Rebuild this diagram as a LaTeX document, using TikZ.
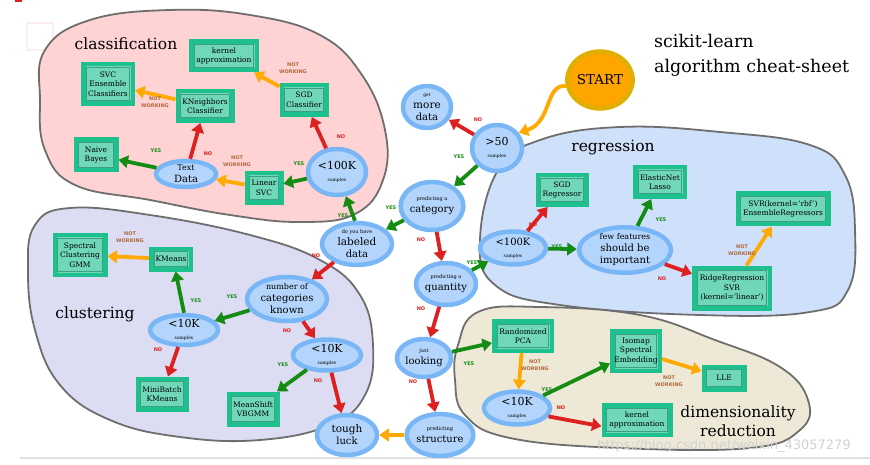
\documentclass[tikz,border=0pt]{standalone}
\usepackage{fontspec}
\setmainfont{DejaVu Serif}
\newfontfamily\labfont{DejaVu Sans}
\usetikzlibrary{arrows.meta,shapes.geometric,shadows}
\newcommand\fsz[2]{\fontsize{#1}{#2}\selectfont}
\definecolor{pinkfill}{HTML}{FFD3D3}
\definecolor{lavfill}{HTML}{DCDCF3}
\definecolor{regfill}{HTML}{CFE0FA}
\definecolor{dimfill}{HTML}{EEE9D6}
\definecolor{blobline}{HTML}{6E6E6E}
\definecolor{ellfill}{HTML}{B4D5FB}
\definecolor{ellline}{HTML}{78B6F6}
\definecolor{boxfill}{HTML}{70D8B8}
\definecolor{boxline}{HTML}{1EC08E}
\definecolor{boxinner}{HTML}{3E9F84}
\definecolor{agreen}{HTML}{148C14}
\definecolor{ared}{HTML}{DD2020}
\definecolor{aorange}{HTML}{FFAA00}
\definecolor{nwbrown}{HTML}{B0683A}
\definecolor{startfill}{HTML}{FFA500}
\definecolor{startline}{HTML}{E0B000}
\tikzset{
  blob/.style={draw=blobline, line width=1.8pt},
  ell/.style={ellipse, draw=ellline, line width=4.5pt, fill=ellfill, inner sep=0pt, align=center,
    drop shadow={shadow xshift=1pt, shadow yshift=-1.5pt, opacity=0.25}},
  box/.style={rectangle, draw=boxline, line width=4.5pt, fill=boxfill, inner sep=1pt, align=center,
    font=\fsz{7.5}{9.5},
    drop shadow={shadow xshift=1pt, shadow yshift=-1.5pt, opacity=0.25},
    path picture={\draw[boxinner, line width=0.8pt]
      ([shift={(3pt,-3pt)}]path picture bounding box.north west) rectangle
      ([shift={(-3pt,3pt)}]path picture bounding box.south east);}},
  arr/.style={line width=3.8pt, -{Triangle[width=12.5pt,length=9.5pt]}},
  gar/.style={arr, draw=agreen},
  rar/.style={arr, draw=ared},
  oar/.style={arr, draw=aorange},
  yeslab/.style={font=\labfont\bfseries\fsz{5}{5.5}, text=agreen, inner sep=0pt},
  nolab/.style={font=\labfont\bfseries\fsz{5}{5.5}, text=ared, inner sep=0pt},
  nwlab/.style={font=\labfont\bfseries\fsz{5}{6.5}, text=nwbrown, inner sep=0pt, align=center},
  area/.style={font=\fsz{15.5}{19}, align=center, inner sep=0pt}
}
\begin{document}
\begin{tikzpicture}[x=1pt, y=-1pt]
\useasboundingbox (0,0) rectangle (870,465);
% page artefacts
\fill[ared] (15,0) rectangle (22,2);
\draw[pinkfill!40, line width=1.5pt] (27,23) rectangle (53,50);
\draw[black!12, line width=1.2pt] (20,458) -- (870,458);

% blobs
\draw[blob, fill=pinkfill] plot[smooth cycle, tension=0.7] coordinates {
 (45,50) (90,20) (170,10) (250,15) (320,35) (362,75) (385,130) (383,180) (355,214) (300,222) (230,215) (150,200) (75,185) (45,150) (40,100)};
\draw[blob, fill=lavfill] plot[smooth cycle, tension=0.7] coordinates {
 (35,225) (70,208) (150,215) (250,235) (320,260) (360,295) (373,345) (365,395) (330,425) (260,440) (180,437) (110,420) (60,385) (35,330) (28,270)};
\draw[blob, fill=regfill] plot[smooth cycle, tension=0.7] coordinates {
 (480,240) (498,170) (540,140) (620,127) (720,132) (810,145) (845,175) (855,230) (848,290) (810,312) (700,315) (560,305) (495,285)};
\draw[blob, fill=dimfill] plot[smooth cycle, tension=0.7] coordinates {
 (458,345) (478,312) (540,307) (640,315) (715,340) (780,367) (808,400) (800,430) (750,448) (620,448) (510,438) (465,415) (455,380)};

% area labels and title
\node[area] (tcls) at (126,44) {classification};
\node[area] (tclu) at (95,314) {clustering};
\node[area] (treg) at (613,148) {regression};
\node[area] (tdim) at (738,421) {dimensionality\\reduction};
\node[font=\fsz{17.5}{25}, align=left, anchor=west, inner sep=0pt] (title) at (654,55) {scikit-learn\\algorithm cheat-sheet};

% ellipse nodes
\node[ellipse, draw=startline, line width=4.5pt, fill=startfill, minimum width=61, minimum height=57, inner sep=0pt,
  font=\fsz{13.5}{15}, drop shadow={shadow xshift=1pt, shadow yshift=-1.5pt, opacity=0.25}] (start) at (600,80) {START};
\node[ell, minimum width=48, minimum height=42] (more) at (427,107) {\fsz{4.5}{6}get\\\fsz{10.5}{12.5}more\\data};
\node[ell, minimum width=50, minimum height=46] (gt50) at (497,148) {\fsz{11}{12}{>}50\\\fsz{4.5}{6}samples};
\node[ell, minimum width=56, minimum height=48] (cat) at (432,206) {\fsz{5}{7}predicting a\\\fsz{10}{12}category};
\node[ell, minimum width=70, minimum height=42] (lab) at (357,244) {\fsz{5}{6}do you have\\\fsz{10.5}{12.5}labeled\\data};
\node[ell, minimum width=58, minimum height=46] (c100) at (337,172) {\fsz{11}{12}{<}100K\\\fsz{4.5}{6}samples};
\node[ell, minimum width=60, minimum height=26] (text) at (186,174) {\fsz{8}{9.5}Text\\Data};
\node[ell, minimum width=80, minimum height=44] (ncat) at (287,299) {\fsz{8}{9.5}number of\\categories\\known};
\node[ell, minimum width=68, minimum height=30] (k10a) at (184,330) {\fsz{11}{11}{<}10K\\\fsz{4.5}{6}samples};
\node[ell, minimum width=68, minimum height=31] (k10b) at (327,355) {\fsz{11}{11}{<}10K\\\fsz{4.5}{6}samples};
\node[ell, minimum width=60, minimum height=40] (tough) at (347,435) {\fsz{10.5}{12.5}tough\\luck};
\node[ell, minimum width=60, minimum height=42] (quant) at (446,284) {\fsz{5}{7}predicting a\\\fsz{10}{12}quantity};
\node[ell, minimum width=54, minimum height=38] (look) at (424,358) {\fsz{5}{7}just\\\fsz{10}{12}looking};
\node[ell, minimum width=60, minimum height=42] (struct) at (440,435) {\fsz{5}{7}predicting\\\fsz{10}{12}structure};
\node[ell, minimum width=66, minimum height=33] (r100) at (513,248) {\fsz{10}{11}{<}100K\\\fsz{4.5}{6}samples};
\node[ell, minimum width=92, minimum height=40] (few) at (625,250) {\fsz{8}{9.5}few features\\should be\\important};
\node[ell, minimum width=66, minimum height=33] (k10c) at (517,408) {\fsz{11}{11}{<}10K\\\fsz{4.5}{6}samples};

% boxes
\node[box, minimum width=65.5, minimum height=28.5] (ka1) at (224,56) {kernel\\approximation};
\node[box, minimum width=49.5, minimum height=39.5] (svce) at (108,84) {SVC\\Ensemble\\Classifiers};
\node[box, minimum width=54.5, minimum height=29.5] (knn) at (205,106) {KNeighbors\\Classifier};
\node[box, minimum width=44.5, minimum height=29.5] (sgdc) at (304,100) {SGD\\Classifier};
\node[box, minimum width=40.5, minimum height=30.5] (nb) at (96,155) {Naive\\Bayes};
\node[box, minimum width=34.5, minimum height=29.5] (lsvc) at (264,188) {Linear\\SVC};
\node[box, minimum width=50.5, minimum height=39.5] (spec) at (80,255) {Spectral\\Clustering\\GMM};
\node[box, minimum width=39.5, minimum height=20.5] (km) at (171,259) {KMeans};
\node[box, minimum width=48.5, minimum height=30.5] (mbk) at (162,394) {MiniBatch\\KMeans};
\node[box, minimum width=48.5, minimum height=30.5] (ms) at (253,409) {MeanShift\\VBGMM};
\node[box, minimum width=48.5, minimum height=29.5] (sgdr) at (562,190) {SGD\\Regressor};
\node[box, minimum width=49.5, minimum height=29.5] (enl) at (660,182) {ElasticNet\\Lasso};
\node[box, minimum width=90.5, minimum height=30.5] (svr) at (783,209) {SVR(kernel=‘rbf’)\\EnsembleRegressors};
\node[box, minimum width=75.5, minimum height=40.5] (ridge) at (732,288) {RidgeRegression\\SVR\\(kernel=‘linear’)};
\node[box, minimum width=57.5, minimum height=29.5] (rpca) at (523,336) {Randomized\\PCA};
\node[box, minimum width=47.5, minimum height=39.5] (iso) at (636,351) {Isomap\\Spectral\\Embedding};
\node[box, minimum width=40.5, minimum height=22.5] (lle) at (724,378) {LLE};
\node[box, minimum width=66.5, minimum height=29.5] (ka2) at (637,420) {kernel\\approximation};

% arrows
\draw[oar] (start.190) .. controls (545,84) and (552,122) .. (gt50.35);
\draw[rar] (gt50) -- (more);
\draw[gar] (gt50) -- (cat);
\draw[gar] (cat) -- (lab);
\draw[gar] (lab.95) -- (c100.290);
\draw[rar] (c100) -- (sgdc);
\draw[oar] (sgdc) -- (ka1);
\draw[gar] (c100) -- (lsvc);
\draw[oar] (lsvc) -- (text);
\draw[rar] (text) -- (knn);
\draw[gar] (text) -- (nb);
\draw[oar] (knn) -- (svce);
\draw[rar] (lab) -- (ncat);
\draw[gar] (ncat) -- (k10a);
\draw[gar] (k10a.north) -- (km.290);
\draw[oar] (km) -- (spec);
\draw[rar] (k10a) -- (mbk);
\draw[rar] (ncat) -- (k10b);
\draw[gar] (k10b) -- (ms);
\draw[rar] (k10b) -- (tough);
\draw[rar] (cat) -- (quant);
\draw[gar] (quant) -- (r100);
\draw[rar] (r100) -- (sgdr);
\draw[gar] (r100) -- (few);
\draw[gar] (few) -- (enl);
\draw[rar] (few) -- (ridge);
\draw[oar] (ridge) -- (svr);
\draw[rar] (quant) -- (look);
\draw[gar] (look) -- (rpca);
\draw[oar] (rpca) -- (k10c);
\draw[gar] (k10c) -- (iso);
\draw[oar] (iso) -- (lle);
\draw[rar] (k10c.-15) -- (ka2.190);
\draw[rar] (look) -- (struct);
\draw[oar] (struct) -- (tough);

% arrow labels
\node[yeslab] (y1) at (459,157) {YES};
\node[yeslab] (y2) at (391,208) {YES};
\node[yeslab] (y3) at (343,216) {YES};
\node[yeslab] (y4) at (299,164) {YES};
\node[yeslab] (y5) at (156,151) {YES};
\node[yeslab] (y6) at (232,297) {YES};
\node[yeslab] (y7) at (196,301) {YES};
\node[yeslab] (y8) at (283,365) {YES};
\node[yeslab] (y9) at (472,263) {YES};
\node[yeslab] (y10) at (557,247) {YES};
\node[yeslab] (y11) at (661,220) {YES};
\node[yeslab] (y12) at (469,364) {YES};
\node[yeslab] (y13) at (547,390) {YES};
\node[nolab] (n1) at (478,120) {NO};
\node[nolab] (n2) at (341,137) {NO};
\node[nolab] (n3) at (208,154) {NO};
\node[nolab] (n4) at (316,256) {NO};
\node[nolab] (n5) at (158,350) {NO};
\node[nolab] (n6) at (287,331) {NO};
\node[nolab] (n7) at (318,381) {NO};
\node[nolab] (n8) at (421,240) {NO};
\node[nolab] (n9) at (533,225) {NO};
\node[nolab] (n10) at (662,279) {NO};
\node[nolab] (n11) at (421,309) {NO};
\node[nolab] (n12) at (413,382) {NO};
\node[nolab] (n13) at (561,408) {NO};
\node[nwlab] (w1) at (293,68) {NOT\\WORKING};
\node[nwlab] (w2) at (155,102) {NOT\\WORKING};
\node[nwlab] (w3) at (237,161) {NOT\\WORKING};
\node[nwlab] (w4) at (130,237) {NOT\\WORKING};
\node[nwlab] (w5) at (742,250) {NOT\\WORKING};
\node[nwlab] (w6) at (535,365) {NOT\\WORKING};
\node[nwlab] (w7) at (669,381) {NOT\\WORKING};

% watermark
\node[font=\labfont\fsz{13}{15}, text=black!18, inner sep=0pt] (wm) at (724,446) {https://blog.csdn.net/weixin\_43057279};
\end{tikzpicture}
\end{document}
